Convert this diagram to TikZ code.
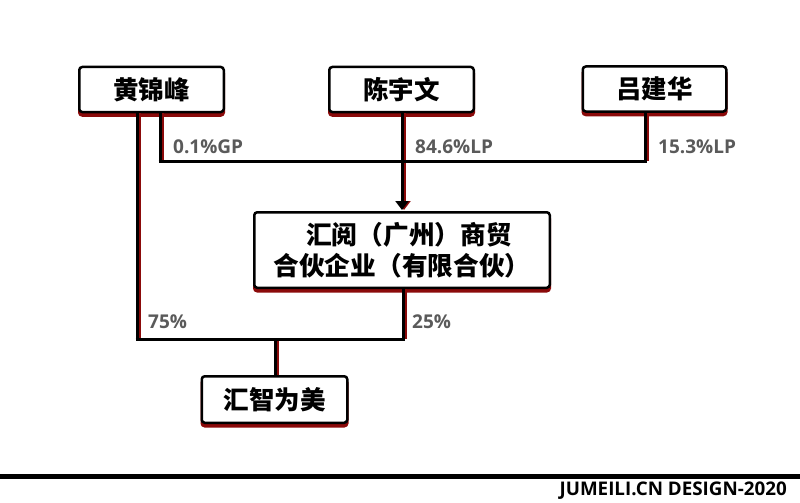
\documentclass[tikz,border=0pt]{standalone}
\usepackage{fontspec}
\setmainfont{Open Sans}
\newfontfamily\cjk{Noto Sans CJK SC}
\usetikzlibrary{arrows.meta}
\definecolor{shred}{HTML}{8B0A0A}
\definecolor{lblgray}{HTML}{5A5A5A}
\tikzset{
  x=1pt, y=-1pt,
  boxnode/.style={draw=black, line width=2.5pt, rounded corners=3pt, fill=white,
    inner sep=0pt, font=\cjk\bfseries\fontsize{25.5}{30}\selectfont,
    preaction={draw=shred, fill=shred, line width=2.5pt, transform canvas={yshift=-3.5pt}}},
  conn/.style={draw=black, line width=3pt,
    preaction={draw=shred, line width=3pt, transform canvas={xshift=2pt}}},
  hconn/.style={draw=black, line width=3pt},
  lbl/.style={text=lblgray, font=\bfseries\fontsize{19}{22}\selectfont, anchor=west, inner sep=0pt},
}
\begin{document}
\begin{tikzpicture}
\useasboundingbox (0,0) rectangle (800,503);
\fill[white] (0,0) rectangle (800,503);
% nodes
\node[boxnode, minimum width=144.5pt, minimum height=45pt] (a) at (151.5,89.5) {黄锦峰};
\node[boxnode, minimum width=144.5pt, minimum height=45pt] (b) at (401.5,89.5) {陈宇文};
\node[boxnode, minimum width=143.5pt, minimum height=45pt] (c) at (654.5,89) {吕建华};
\node[boxnode, minimum width=295.5pt, minimum height=75.5pt, align=center,
      font=\cjk\bfseries\fontsize{25.7}{30.5}\selectfont] (m) at (402,250) {\hspace*{14pt}汇阅（广州）商贸\\合伙企业（有限合伙）};
\node[boxnode, minimum width=145.5pt, minimum height=46.5pt] (d) at (274.5,399.5) {汇智为美};
% junction coordinates
\coordinate (ja) at (137,339);
\coordinate (jg) at (160,161);
\coordinate (jc) at (645,161);
\coordinate (jm) at (403,339);
\coordinate (jd) at (275,339);
% connectors (verticals with shadow)
\path[conn] (a.south -| ja) -- (ja);
\path[conn] (a.south -| jg) -- (jg);
\path[conn] (c.south -| jc) -- (jc);
\path[conn] (m.south -| jm) -- (jm);
\path[conn] (jd) -- (d.north -| jd);
\path[conn, -{Triangle[length=9pt,width=13pt]}] (b.south -| 402,0) -- ([yshift=1pt]m.north -| 402,0);
% horizontals
\path[hconn] ([xshift=-1.5pt]jg) -- ([xshift=1.5pt]jc);
\path[hconn] ([xshift=-1.5pt]ja) -- ([xshift=1.5pt]jm);
% labels
\node[lbl] (l1) at (173,147) {0.1\%GP};
\node[lbl] (l2) at (415,147) {84.6\%LP};
\node[lbl] (l3) at (658,147) {15.3\%LP};
\node[lbl] (l4) at (148,322) {75\%};
\node[lbl] (l5) at (412,322) {25\%};
% bottom bar
\coordinate (bl) at (0,476);
\coordinate (br) at (800,476);
\draw[line width=5pt, black] (bl) -- (br);
\node[anchor=east, inner sep=0pt, font=\bfseries\fontsize{18.8}{22}\selectfont, text=black] (foot) at (787,491) {JUMEILI.CN DESIGN-2020};
\end{tikzpicture}
\end{document}
